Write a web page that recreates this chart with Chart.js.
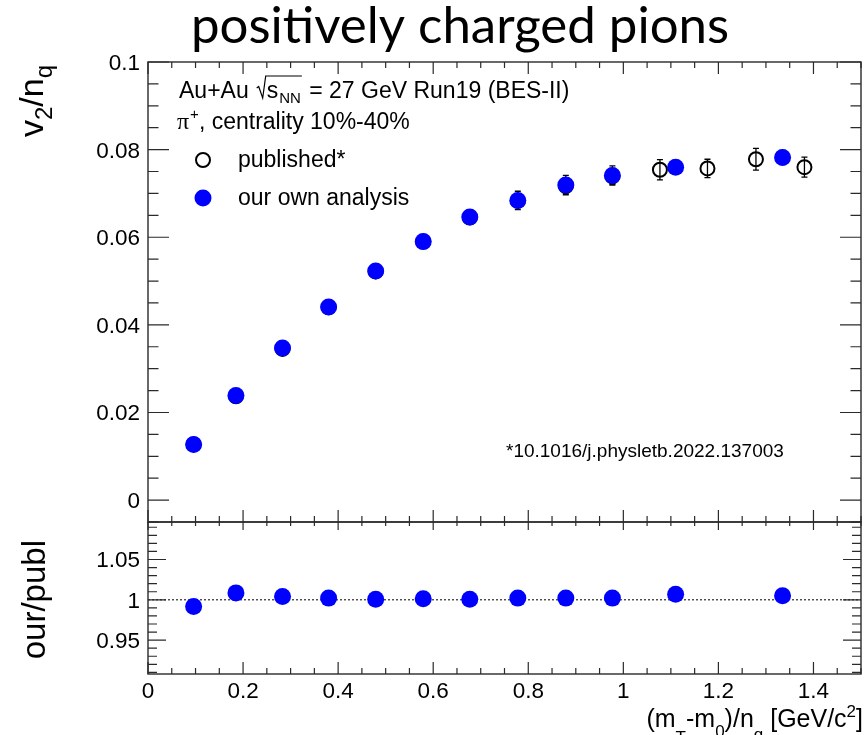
<!DOCTYPE html>
<html>
<head>
<meta charset="utf-8">
<script src="https://cdn.jsdelivr.net/npm/chart.js@4.4.1/dist/chart.umd.min.js"></script>
<style>
  html, body { margin: 0; padding: 0; background: #fff; }
  #wrap { position: relative; width: 865px; height: 735px; overflow: hidden; }
  canvas { position: absolute; left: 0; }
  #cTop { top: 0; }
  #cRat { top: 512px; }
</style>
</head>
<body>
<div id="wrap">
  <canvas id="cTop" width="870" height="532"></canvas>
  <canvas id="cRat" width="870" height="223"></canvas>
</div>
<script>
// our own analysis, v2/nq vs (mT-m0)/nq
const xOur = [0.096, 0.185, 0.283, 0.380, 0.479, 0.579, 0.677, 0.778, 0.879, 0.977, 1.110, 1.335];
const v2Our = [0.0127, 0.0239, 0.0347, 0.0441, 0.0523, 0.0590, 0.0646, 0.0684, 0.0719, 0.0741, 0.0760, 0.0782];
const errOur = [0.0006, 0.0008, 0.0009, 0.0010, 0.0012, 0.0013, 0.0015, 0.0021, 0.0022, 0.0022, 0.0015, 0.0016];

// published* (PLB 2022)
const xPub = [0.096, 0.185, 0.283, 0.380, 0.479, 0.579, 0.677, 0.778, 0.879, 0.977, 1.077, 1.177, 1.279, 1.381];
const v2Pub = [0.0127, 0.0237, 0.0345, 0.0440, 0.0522, 0.0590, 0.0645, 0.0683, 0.0717, 0.0739, 0.0754, 0.0757, 0.0778, 0.0760];
const errPub = [0.0004, 0.0006, 0.0007, 0.0008, 0.0009, 0.0011, 0.0012, 0.0014, 0.0016, 0.0018, 0.0023, 0.0021, 0.0025, 0.0023];

// ratio our/publ
const ratio = [0.9918, 1.0086, 1.0041, 1.0021, 1.0008, 1.0012, 1.0008, 1.0021, 1.0021, 1.0021, 1.0070, 1.0049];

// axis ticks
const xTicks = [0, 0.2, 0.4, 0.6, 0.8, 1, 1.2, 1.4];
const xTickLabels = ['0', '0.2', '0.4', '0.6', '0.8', '1', '1.2', '1.4'];
const v2Ticks = [0, 0.02, 0.04, 0.06, 0.08, 0.1];
const v2TickLabels = ['0', '0.02', '0.04', '0.06', '0.08', '0.1'];
const ratioTicks = [0.95, 1, 1.05];
const ratioTickLabels = ['0.95', '1', '1.05'];

const BLUE = '#0000ff';
const SANS = '"Liberation Sans", Arial, Helvetica, sans-serif';
const RAT_TOP = 512; // page offset of the ratio canvas

function toXY(xs, ys) {
  return xs.map((x, i) => ({ x: x, y: ys[i] }));
}

function minorList(from, to, step) {
  const out = [];
  const n = Math.round((to - from) / step);
  for (let i = 0; i <= n; i++) out.push(+(from + i * step).toFixed(6));
  return out;
}

// ROOT style frame with inward ticks
function drawFrame(chart, o) {
  const ctx = chart.ctx, a = chart.chartArea;
  const xs = chart.scales.x, ys = chart.scales.y;
  ctx.save();
  ctx.strokeStyle = '#2a2a2a';
  ctx.lineWidth = 1.4;
  ctx.strokeRect(a.left, a.top, a.right - a.left, a.bottom - a.top);
  ctx.lineWidth = 1.2;
  ctx.beginPath();
  o.yMinor.forEach(v => {
    const major = o.yMajor.some(m => Math.abs(m - v) < 1e-6);
    const len = major ? o.yLen : o.yLen / 2;
    const p = ys.getPixelForValue(v);
    if (p < a.top - 0.5 || p > a.bottom + 0.5) return;
    ctx.moveTo(a.left, p); ctx.lineTo(a.left + len, p);
    ctx.moveTo(a.right, p); ctx.lineTo(a.right - len, p);
  });
  o.xMinor.forEach(v => {
    const major = xTicks.some(m => Math.abs(m - v) < 1e-6);
    const p = xs.getPixelForValue(v);
    const lb = major ? o.xLenB : o.xLenB / 2;
    const lt = major ? o.xLenT : o.xLenT / 2;
    ctx.moveTo(p, a.bottom); ctx.lineTo(p, a.bottom - lb);
    ctx.moveTo(p, a.top); ctx.lineTo(p, a.top + lt);
  });
  ctx.stroke();
  // y tick labels
  ctx.fillStyle = '#000';
  ctx.font = '22.5px ' + SANS;
  ctx.textAlign = 'right';
  ctx.textBaseline = 'alphabetic';
  o.yMajor.forEach((v, i) => {
    ctx.fillText(o.yLabels[i], a.left - 8, ys.getPixelForValue(v) + 8);
  });
  ctx.restore();
}

function drawErrorBars(chart) {
  const ctx = chart.ctx, ys = chart.scales.y;
  ctx.save();
  chart.data.datasets.forEach((ds, di) => {
    if (!ds.errorBars) return;
    const meta = chart.getDatasetMeta(di);
    ctx.strokeStyle = ds.barColor;
    ctx.lineWidth = 1.3;
    ctx.beginPath();
    meta.data.forEach((pt, i) => {
      const v = ds.data[i].y, e = ds.errorBars[i];
      const y1 = ys.getPixelForValue(v + e), y2 = ys.getPixelForValue(v - e);
      ctx.moveTo(pt.x, y1); ctx.lineTo(pt.x, y2);
      ctx.moveTo(pt.x - 3, y1); ctx.lineTo(pt.x + 3, y1);
      ctx.moveTo(pt.x - 3, y2); ctx.lineTo(pt.x + 3, y2);
    });
    ctx.stroke();
  });
  ctx.restore();
}

// rich text piece by piece: {t, sub, sup}
function richText(ctx, parts, x, y, big, small, dSub, dSup) {
  parts.forEach(p => {
    ctx.font = (p.sub || p.sup ? small : big);
    const dy = p.sub ? (p.dy || dSub) : (p.sup ? -dSup : 0);
    ctx.fillText(p.t, x, y + dy);
    x += ctx.measureText(p.t).width;
  });
  return x;
}
function richWidth(ctx, parts, big, small) {
  let w = 0;
  parts.forEach(p => { ctx.font = (p.sub || p.sup ? small : big); w += ctx.measureText(p.t).width; });
  return w;
}

const topPlugin = {
  id: 'topDecor',
  beforeDatasetsDraw(chart) {
    drawErrorBars(chart);
  },
  afterDraw(chart) {
    const ctx = chart.ctx;
    drawFrame(chart, {
      yMajor: v2Ticks, yLabels: v2TickLabels,
      yMinor: minorList(-0.005, 0.1, 0.005), yLen: 21,
      xMinor: minorList(0, 1.5, 0.05), xLenB: 12, xLenT: 12
    });
    ctx.save();
    ctx.fillStyle = '#000';
    ctx.textAlign = 'left';
    ctx.textBaseline = 'alphabetic';

    // title
    ctx.font = '51px Lato, "Noto Sans", sans-serif';
    ctx.textAlign = 'center';
    ctx.fillText('positively charged pions', 460, 43);
    ctx.textAlign = 'left';

    // y title, rotated
    const yt = [{ t: 'v' }, { t: '2', sub: true }, { t: '/n' }, { t: 'q', sub: true }];
    const bigY = '34px ' + SANS, smallY = '24px ' + SANS;
    const wy = richWidth(ctx, yt, bigY, smallY);
    ctx.save();
    ctx.translate(43, 65 + wy);
    ctx.rotate(-Math.PI / 2);
    richText(ctx, yt, 0, 0, bigY, smallY, 9, 0);
    ctx.restore();

    // header line 1: Au+Au sqrt(s_NN) = 27 GeV Run19 (BES-II)
    const f = '23px ' + SANS, fs = '15px ' + SANS;
    let x = 179, y = 98;
    ctx.font = f;
    ctx.fillText('Au+Au', x, y);
    x += ctx.measureText('Au+Au').width + 8;
    ctx.beginPath();
    ctx.moveTo(x, y - 10); ctx.lineTo(x + 2, y - 11.5); ctx.lineTo(x + 6, y);
    ctx.lineTo(x + 9, y - 22);
    x += 10;
    ctx.fillText('s', x, y);
    x += ctx.measureText('s').width;
    ctx.font = fs;
    ctx.fillText('NN', x + 1, y + 5);
    x += ctx.measureText('NN').width + 2;
    ctx.lineTo(x, y - 22);
    ctx.strokeStyle = '#000'; ctx.lineWidth = 1.2;
    ctx.stroke();
    ctx.font = f;
    ctx.fillText(' = 27 GeV Run19 (BES-II)', x + 1, y);

    // header line 2: pi+, centrality
    y = 129; x = 177;
    ctx.font = '24px "Liberation Serif", "Times New Roman", serif';
    ctx.fillText('\u03c0', x, y);
    x += ctx.measureText('\u03c0').width + 1;
    ctx.font = fs;
    ctx.fillText('+', x, y - 10);
    x += ctx.measureText('+').width;
    ctx.font = f;
    ctx.fillText(', centrality 10%-40%', x, y);

    // legend
    ctx.beginPath();
    ctx.arc(203, 160, 7, 0, Math.PI * 2);
    ctx.lineWidth = 2; ctx.strokeStyle = '#000';
    ctx.stroke();
    ctx.beginPath();
    ctx.arc(203, 198, 8.5, 0, Math.PI * 2);
    ctx.fillStyle = BLUE; ctx.fill();
    ctx.fillStyle = '#000';
    ctx.font = f;
    ctx.fillText('published*', 238, 167);
    ctx.fillText('our own analysis', 238, 205);

    // reference
    ctx.font = '19px ' + SANS;
    ctx.fillText('*10.1016/j.physletb.2022.137003', 506, 457);
    ctx.restore();
  }
};

const ratPlugin = {
  id: 'ratDecor',
  beforeDatasetsDraw(chart) {
    const ctx = chart.ctx, a = chart.chartArea, ys = chart.scales.y;
    const p = ys.getPixelForValue(1);
    ctx.save();
    ctx.strokeStyle = '#000';
    ctx.lineWidth = 1;
    ctx.setLineDash([2, 2]);
    ctx.beginPath();
    ctx.moveTo(a.left, p); ctx.lineTo(a.right, p);
    ctx.stroke();
    ctx.restore();
  },
  afterDraw(chart) {
    const ctx = chart.ctx, a = chart.chartArea, xs = chart.scales.x;
    drawFrame(chart, {
      yMajor: ratioTicks, yLabels: ratioTickLabels,
      yMinor: minorList(0.91, 1.09, 0.01), yLen: 18,
      xMinor: minorList(0, 1.5, 0.05), xLenB: 12, xLenT: 8
    });
    ctx.save();
    ctx.fillStyle = '#000';
    ctx.textBaseline = 'alphabetic';
    // x tick labels
    ctx.font = '22.5px ' + SANS;
    ctx.textAlign = 'center';
    xTicks.forEach((v, i) => ctx.fillText(xTickLabels[i], xs.getPixelForValue(v), a.bottom + 24));
    ctx.textAlign = 'left';

    // x title
    const xt = [{ t: '(m' }, { t: 'T', sub: true, dy: 16 }, { t: '-m' }, { t: '0', sub: true, dy: 10 },
                { t: ')/n' }, { t: 'q', sub: true, dy: 13 }, { t: ' [GeV/c' }, { t: '2', sup: true }, { t: ']' }];
    const big = '25px ' + SANS, small = '17px ' + SANS;
    const w = richWidth(ctx, xt, big, small);
    richText(ctx, xt, 863 - w, 727 - RAT_TOP, big, small, 10, 10);

    // y title, rotated
    ctx.font = '33px ' + SANS;
    const wy = ctx.measureText('our/publ').width;
    ctx.save();
    ctx.translate(45, 540 - RAT_TOP + wy);
    ctx.rotate(-Math.PI / 2);
    ctx.fillText('our/publ', 0, 0);
    ctx.restore();
    ctx.restore();
  }
};

const xScale = { type: 'linear', min: 0, max: 1.5, display: false };

new Chart(document.getElementById('cTop').getContext('2d'), {
  type: 'scatter',
  data: {
    datasets: [{
      label: 'our own analysis',
      data: toXY(xOur, v2Our),
      errorBars: errOur,
      barColor: '#000',
      backgroundColor: BLUE,
      borderWidth: 0,
      pointRadius: 8.5,
      order: 0
    }, {
      label: 'published*',
      data: toXY(xPub, v2Pub),
      errorBars: errPub,
      barColor: '#000',
      backgroundColor: 'rgba(0,0,0,0)',
      borderColor: '#000',
      borderWidth: 2,
      pointRadius: 7,
      order: 1
    }]
  },
  options: {
    responsive: false,
    devicePixelRatio: 1,
    animation: false,
    events: [],
    layout: { padding: { left: 148, right: 9, top: 62, bottom: 10 } },
    plugins: { legend: { display: false }, title: { display: false }, tooltip: { enabled: false } },
    scales: {
      x: xScale,
      y: { type: 'linear', min: -0.005, max: 0.1, display: false }
    }
  },
  plugins: [topPlugin]
});

new Chart(document.getElementById('cRat').getContext('2d'), {
  type: 'scatter',
  data: {
    datasets: [{
      label: 'our/publ',
      data: toXY(xOur, ratio),
      backgroundColor: BLUE,
      borderWidth: 0,
      pointRadius: 8.5
    }]
  },
  options: {
    responsive: false,
    devicePixelRatio: 1,
    animation: false,
    events: [],
    layout: { padding: { left: 148, right: 9, top: 10, bottom: 61 } },
    plugins: { legend: { display: false }, title: { display: false }, tooltip: { enabled: false } },
    scales: {
      x: xScale,
      y: { type: 'linear', min: 0.908, max: 1.0965, display: false }
    }
  },
  plugins: [ratPlugin]
});
</script>
</body>
</html>
